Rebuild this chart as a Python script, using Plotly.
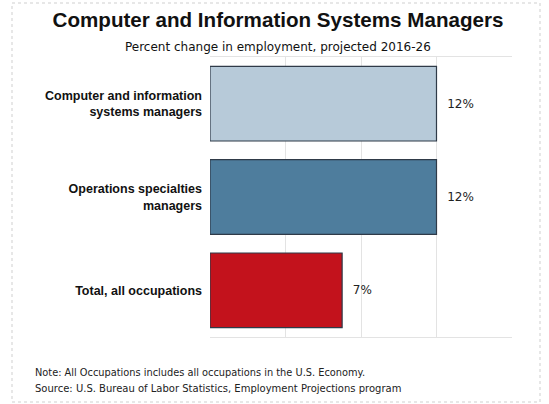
import plotly.graph_objects as go

categories = ["Computer and information<br>systems managers", "Operations specialties<br>managers", "Total, all occupations"]
values = [12, 12, 7]
value_labels = ["12%", "12%", "7%"]
colors = ["#b7cad9", "#4e7d9d", "#c3121c"]

L, R, T, B = 210, 37, 57, 67
W, H = 549, 404
PW, PH = W - L - R, H - T - B


def px(x):
    return (x - L) / PW


def py(y):
    return (H - B - y) / PH


fig = go.Figure()
fig.add_trace(go.Bar(
    y=categories, x=values, orientation="h",
    marker=dict(color=colors, line=dict(color="#2f3a48", width=1.2)),
    width=0.8,
    text=["\u00a0\u00a0" + v for v in value_labels], textposition="outside",
    textfont=dict(family="DejaVu Sans", size=12, color="#222"),
    cliponaxis=False,
))

fig.update_layout(
    width=W, height=H,
    margin=dict(l=L, r=R, t=T, b=B),
    paper_bgcolor="white", plot_bgcolor="white",
    showlegend=False,
    title=dict(
        text="<b>Computer and Information Systems Managers</b>",
        font=dict(family="Liberation Sans, Arial", size=20.6, color="#111"),
        x=278 / W, xanchor="center", y=1 - 20 / H, yanchor="middle",
    ),
    xaxis=dict(range=[0, 16], dtick=4, showticklabels=False, showgrid=True,
               gridcolor="#e3e3e3", zeroline=False, showline=True, mirror=True,
               linecolor="#e3e3e3", ticks=""),
    yaxis=dict(autorange="reversed", showgrid=False, showline=False,
               tickfont=dict(family="Liberation Sans, Arial", size=12.5, color="#111"),
               ticks="", ticklabelstandoff=7,
               tickvals=categories, ticktext=["<b>" + c + "</b>" for c in categories]),
    bargap=0.2,
)

fig.add_annotation(text="Percent change in employment, projected 2016-26",
                   xref="paper", yref="paper", x=px(278), xanchor="center", y=py(47), yanchor="middle",
                   showarrow=False, font=dict(family="DejaVu Sans", size=12, color="#111"))

fig.add_annotation(text="Note: All Occupations includes all occupations in the U.S. Economy.",
                   xref="paper", yref="paper", x=px(33), xanchor="left", y=py(372), yanchor="middle",
                   showarrow=False, font=dict(family="DejaVu Sans", size=9.8, color="#222"))
fig.add_annotation(text="Source: U.S. Bureau of Labor Statistics, Employment Projections program",
                   xref="paper", yref="paper", x=px(33), xanchor="left", y=py(388), yanchor="middle",
                   showarrow=False, font=dict(family="DejaVu Sans", size=10, color="#222"))

fig.add_shape(type="rect", xref="paper", yref="paper",
              x0=px(12), x1=px(540), y0=py(402), y1=py(3),
              line=dict(color="#cfcfcf", width=1, dash="dot"))

fig.write_html("out.html", config={"displayModeBar": False},
               post_script="document.body.style.margin='0';")
